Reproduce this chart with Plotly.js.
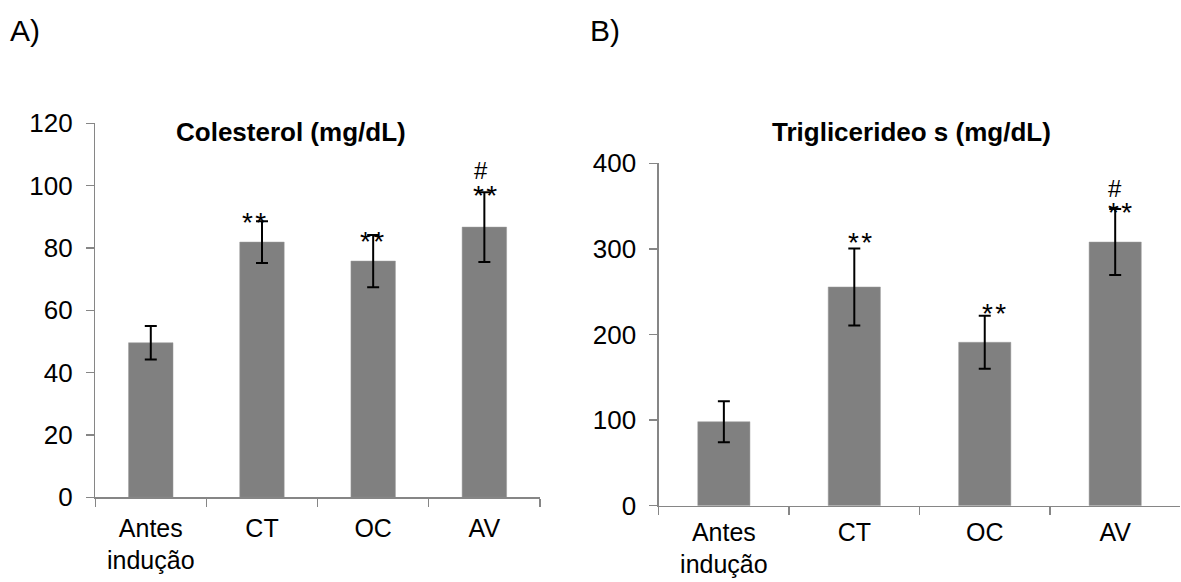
<!DOCTYPE html>
<html>
<head>
<meta charset="utf-8">
<script src="https://cdn.plot.ly/plotly-3.0.1.min.js"></script>
<style>html,body{margin:0;padding:0;background:#fff}#chart{width:1181px;height:582px}</style>
</head>
<body>
<div id="chart"></div>
<script>
// ---- data ----
const categories = ["Antes<br>indução", "CT", "OC", "AV"];
const colMean = [49.6, 81.9, 75.8, 86.7];
const colErr  = [5.4, 6.7, 8.4, 11.2];
const triMean = [98.1, 255.5, 190.9, 308.0];
const triErr  = [24.0, 45.0, 31.0, 38.6];
const colSig  = ["", "**", "**", "**"];
const colHash = ["", "", "", "#"];
const triSig  = ["", "**", "**", "**"];
const triHash = ["", "", "", "#"];
const panelLabels = ["A)", "B)"];
const panelTitles = ["Colesterol (mg/dL)", "Triglicerideo s (mg/dL)"];

// ---- style ----
const FONT = "Liberation Sans, Arial, sans-serif";
const BAR = "#808080";
const AXIS = "#868686";
// pixel nudges of the significance marks (style only)
const sigNudgeA = {dx: [0, -8, -1, 1], dy: [0, -1, -7, -3]};
const sigNudgeB = {dx: [0, 6, 9, 5],  dy: [0, 6, 2, -3]};
const hashNudgeA = {dx: -3, dy: 22};
const hashNudgeB = {dx: 0, dy: 21};

function barTrace(mean, err, xa, ya) {
  return {
    type: "bar", x: categories, y: mean, xaxis: xa, yaxis: ya,
    marker: {color: BAR, line: {color: "#9a9a9a", width: 0.5}},
    error_y: {type: "data", array: err, visible: true, color: "#000", thickness: 2, width: 6},
    hoverinfo: "skip", showlegend: false
  };
}

const traces = [
  barTrace(colMean, colErr, "x", "y"),
  barTrace(triMean, triErr, "x2", "y2")
];

function sigAnnotations(mean, err, sig, hash, xr, yr, nudge, hnudge) {
  const out = [];
  categories.forEach((c, i) => {
    if (sig[i]) out.push({xref: xr, yref: yr, x: c, y: mean[i] + err[i], text: sig[i].split("").join("\u200A"),
      showarrow: false, yanchor: "middle", xshift: nudge.dx[i], yshift: nudge.dy[i],
      font: {family: FONT, size: 28, color: "#000"}});
    if (hash[i]) out.push({xref: xr, yref: yr, x: c, y: mean[i] + err[i], text: hash[i],
      showarrow: false, yanchor: "middle", xshift: hnudge.dx, yshift: hnudge.dy,
      font: {family: FONT, size: 24, color: "#000"}});
  });
  return out;
}

const xCommon = {
  type: "category", range: [-0.5, 3.5], showline: true, linecolor: AXIS, linewidth: 1.3,
  ticks: "outside", tickson: "boundaries", ticklen: 8, tickcolor: AXIS, tickwidth: 1.3,
  showgrid: false, zeroline: false, tickfont: {family: FONT, size: 25, color: "#000"},
  fixedrange: true
};
const yCommon = {
  showline: true, linecolor: AXIS, linewidth: 1.3, ticks: "outside", ticklen: 8,
  tickcolor: AXIS, tickwidth: 1.3, showgrid: false, zeroline: false,
  tickfont: {family: FONT, size: 26, color: "#000"}, ticklabelstandoff: 8, fixedrange: true
};

const layout = {
  width: 1181, height: 582,
  margin: {l: 0, r: 0, t: 0, b: 0},
  paper_bgcolor: "#fff", plot_bgcolor: "#fff",
  font: {family: FONT, color: "#000"},
  bargap: 0.6,
  xaxis:  Object.assign({}, xCommon, {domain: [0.0806, 0.4572], anchor: "y", ticklabelstandoff: 8}),
  yaxis:  Object.assign({}, yCommon, {domain: [0.1455, 0.7881], range: [0, 120], dtick: 20, anchor: "x"}),
  xaxis2: Object.assign({}, xCommon, {domain: [0.5577, 0.9995], anchor: "y2", ticklabelstandoff: 4}),
  yaxis2: Object.assign({}, yCommon, {domain: [0.1311, 0.7194], range: [0, 400], dtick: 100, anchor: "x2"}),
  annotations: [
    {xref: "paper", yref: "paper", x: 8/1181, y: 1 - 30/582, xanchor: "left", yanchor: "middle",
      text: panelLabels[0], showarrow: false, font: {family: FONT, size: 30, color: "#000"}},
    {xref: "paper", yref: "paper", x: 588/1181, y: 1 - 30/582, xanchor: "left", yanchor: "middle",
      text: panelLabels[1], showarrow: false, font: {family: FONT, size: 30, color: "#000"}},
    {xref: "paper", yref: "paper", x: 290.6/1181, y: 1 - 132/582, xanchor: "center", yanchor: "middle",
      text: "<b>" + panelTitles[0] + "</b>", showarrow: false, font: {family: FONT, size: 26, color: "#000"}},
    {xref: "paper", yref: "paper", x: 911/1181, y: 1 - 132/582, xanchor: "center", yanchor: "middle",
      text: "<b>" + panelTitles[1] + "</b>", showarrow: false, font: {family: FONT, size: 26, color: "#000"}}
  ].concat(
    sigAnnotations(colMean, colErr, colSig, colHash, "x", "y", sigNudgeA, hashNudgeA),
    sigAnnotations(triMean, triErr, triSig, triHash, "x2", "y2", sigNudgeB, hashNudgeB)
  )
};

Plotly.newPlot("chart", traces, layout, {displayModeBar: false, staticPlot: true});
</script>
</body>
</html>
